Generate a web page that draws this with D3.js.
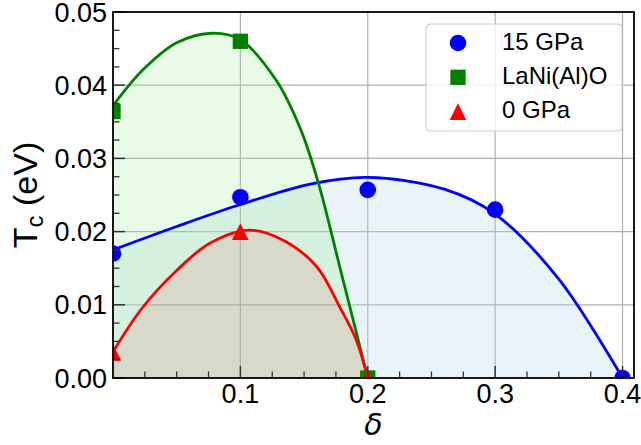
<!DOCTYPE html>
<html>
<head>
<meta charset="utf-8">
<script src="https://cdn.jsdelivr.net/npm/d3@7"></script>
<style>
  body { margin: 0; background: #fff; }
  svg { display: block; }
  text { font-family: "Liberation Sans", Arial, sans-serif; fill: #000; }
</style>
</head>
<body>
<svg id="chart" width="641" height="445"></svg>
<script>
// measured points
const delta15 = [0, 0.1, 0.2, 0.3, 0.4]
const tc15 = [0.0170, 0.0247, 0.0257, 0.0230, 0.0]
const deltaAl = [0, 0.1, 0.2]
const tcAl = [0.0364, 0.0460, 0.0]
const delta0 = [0, 0.1, 0.2]
const tc0 = [0.0035, 0.0200, 0.0]

// fitted curves
const fitX15 = [0, 0.05, 0.1, 0.155, 0.2, 0.26, 0.3, 0.35, 0.4]
const fitY15 = [0.0175, 0.0207, 0.0237, 0.0265, 0.0274, 0.0258, 0.0224, 0.0135, 0]
const fitXAl = [0, 0.0235, 0.05, 0.078, 0.1, 0.128, 0.147, 0.161, 0.178, 0.2]
const fitYAl = [0.0372, 0.0421, 0.0458, 0.0471, 0.0462, 0.0407, 0.0341, 0.0268, 0.0152, 0]
const fitX0 = [0, 0.0235, 0.05, 0.076, 0.107, 0.134, 0.16, 0.178, 0.191, 0.2]
const fitY0 = [0.0036, 0.0097, 0.0147, 0.0184, 0.0202, 0.0188, 0.0152, 0.0097, 0.0052, 0]

const xTicks = [0.1, 0.2, 0.3, 0.4]
const yTicks = [0, 0.01, 0.02, 0.03, 0.04, 0.05]
const yTickLabels = ["0.00", "0.01", "0.02", "0.03", "0.04", "0.05"]
const seriesNames = ["15 GPa", "LaNi(Al)O", "0 GPa"]

const W = 641, H = 445
const margin = {left: 113, top: 12, right: 7, bottom: 67}
const pw = W - margin.left - margin.right
const ph = H - margin.top - margin.bottom

const svg = d3.select('#chart')
const g = svg.append('g').attr('transform', `translate(${margin.left},${margin.top})`)

const x = d3.scaleLinear().domain([0, 0.409]).range([0, pw])
const y = d3.scaleLinear().domain([0, 0.05]).range([ph, 0])

svg.append('defs').append('clipPath').attr('id', 'clip')
  .append('rect').attr('width', pw).attr('height', ph)

// grid
const grid = g.append('g')
grid.selectAll('.gx').data(xTicks).enter().append('line')
  .attr('x1', d => x(d)).attr('x2', d => x(d))
  .attr('y1', 0).attr('y2', ph)
  .attr('stroke', '#b0b0b0').attr('stroke-width', 1.2)
grid.selectAll('.gy').data(yTicks.slice(1, -1)).enter().append('line')
  .attr('y1', d => y(d)).attr('y2', d => y(d))
  .attr('x1', 0).attr('x2', pw)
  .attr('stroke', '#b0b0b0').attr('stroke-width', 1.2)

const plot = g.append('g').attr('clip-path', 'url(#clip)')

const series = [
  {name: seriesNames[0], fx: fitX15, fy: fitY15, px: delta15, py: tc15, color: 'blue', fill: '#add8e6', op: 0.28, shape: 'circle'},
  {name: seriesNames[1], fx: fitXAl, fy: fitYAl, px: deltaAl, py: tcAl, color: 'green', fill: '#90ee90', op: 0.22, shape: 'square'},
  {name: seriesNames[2], fx: fitX0, fy: fitY0, px: delta0, py: tc0, color: 'red', fill: 'red', op: 0.1, shape: 'triangle'}
]

const line = d3.line().x(d => x(d[0])).y(d => y(d[1])).curve(d3.curveCatmullRom.alpha(0.5))
const area = d3.area().x(d => x(d[0])).y0(y(0)).y1(d => y(d[1])).curve(d3.curveCatmullRom.alpha(0.5))

series.forEach(s => {
  const pts = s.fx.map((v, i) => [v, s.fy[i]])
  plot.append('path').datum(pts).attr('d', area)
    .attr('fill', s.fill).attr('fill-opacity', s.op)
})
series.forEach(s => {
  const pts = s.fx.map((v, i) => [v, s.fy[i]])
  plot.append('path').datum(pts).attr('d', line)
    .attr('fill', 'none').attr('stroke', s.color).attr('stroke-width', 2.8)
})

function marker(sel, shape, color) {
  if (shape === 'circle') {
    sel.append('circle').attr('r', 8.3).attr('fill', color)
  } else if (shape === 'square') {
    sel.append('rect').attr('x', -7.65).attr('y', -7.65).attr('width', 15.3).attr('height', 15.3).attr('fill', color)
  } else {
    sel.append('path').attr('d', 'M0,-8.3L8.3,8.3L-8.3,8.3Z').attr('fill', color)
  }
}

series.forEach(s => {
  s.px.forEach((v, i) => {
    const m = plot.append('g').attr('transform', `translate(${x(v)},${y(s.py[i])})`)
    marker(m, s.shape, s.color)
  })
})

// ticks (inward)
const ax = g.append('g')
const minorX = d3.range(0, 0.41, 0.025).filter(d => Math.abs(d * 10 - Math.round(d * 10)) > 1e-6)
const minorY = d3.range(0, 0.0501, 0.0025).filter(d => Math.abs(d * 100 - Math.round(d * 100)) > 1e-6)
ax.selectAll('.mx').data(minorX).enter().append('line')
  .attr('x1', d => x(d)).attr('x2', d => x(d)).attr('y1', ph).attr('y2', ph - 6.5)
  .attr('stroke', '#333').attr('stroke-width', 1.3)
ax.selectAll('.Mx').data(xTicks).enter().append('line')
  .attr('x1', d => x(d)).attr('x2', d => x(d)).attr('y1', ph).attr('y2', ph - 12)
  .attr('stroke', '#333').attr('stroke-width', 1.5)
ax.selectAll('.my').data(minorY).enter().append('line')
  .attr('y1', d => y(d)).attr('y2', d => y(d)).attr('x1', 0).attr('x2', 6.5)
  .attr('stroke', '#333').attr('stroke-width', 1.3)
ax.selectAll('.My').data(yTicks).enter().append('line')
  .attr('y1', d => y(d)).attr('y2', d => y(d)).attr('x1', 0).attr('x2', 12)
  .attr('stroke', '#333').attr('stroke-width', 1.5)

// tick labels
ax.selectAll('.lx').data(xTicks).enter().append('text')
  .attr('x', d => x(d)).attr('y', ph + 25)
  .attr('text-anchor', 'middle').style('font-size', '27px')
  .text(d => d3.format('.1f')(d))
ax.selectAll('.ly').data(yTicks).enter().append('text')
  .attr('x', -6).attr('y', d => y(d) + 9.5)
  .attr('text-anchor', 'end').style('font-size', '27px')
  .text((d, i) => yTickLabels[i])

// frame
g.append('rect').attr('width', pw).attr('height', ph)
  .attr('fill', 'none').attr('stroke', '#000').attr('stroke-width', 1.8)

// axis titles
svg.append('text')
  .attr('x', margin.left + pw / 2).attr('y', 435)
  .attr('text-anchor', 'middle')
  .style('font-family', '"DejaVu Sans", sans-serif').style('font-style', 'italic').style('font-size', '30px')
  .text('δ')

const yl = svg.append('text')
  .attr('transform', `translate(37,${margin.top + ph / 2}) rotate(-90)`)
  .attr('text-anchor', 'middle').style('font-size', '34px')
yl.append('tspan').text('T')
yl.append('tspan').attr('dy', 6).style('font-size', '24px').text('c')
yl.append('tspan').attr('dy', -6).text(' (eV)')

// legend
const lg = svg.append('g')
lg.append('rect').attr('x', 426).attr('y', 24).attr('width', 196).attr('height', 107)
  .attr('rx', 4).attr('fill', '#fff').attr('fill-opacity', 0.8)
  .attr('stroke', '#ccc').attr('stroke-width', 1)
series.forEach((s, i) => {
  const cy = 43 + i * 34.3
  const m = lg.append('g').attr('transform', `translate(458,${cy})`)
  marker(m, s.shape, s.color)
  lg.append('text').attr('x', 502).attr('y', cy + 6.5)
    .style('font-size', '24px').text(s.name)
})
</script>
</body>
</html>
